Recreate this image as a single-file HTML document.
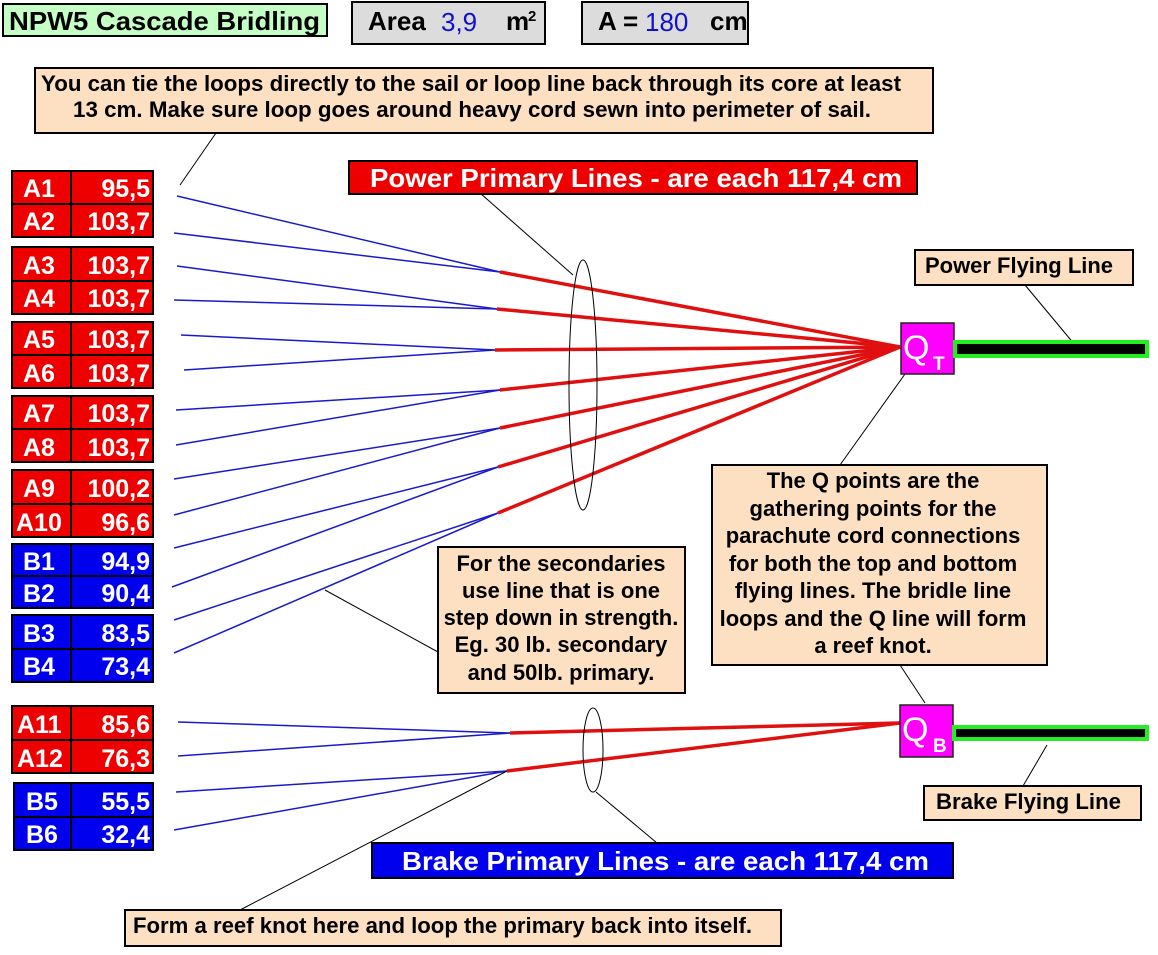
<!DOCTYPE html>
<html><head><meta charset="utf-8"><style>
html,body{margin:0;padding:0;background:#fff;}
svg{display:block;font-family:"Liberation Sans",Arial,sans-serif;font-weight:bold;}
</style></head><body>
<svg width="1158" height="955" viewBox="0 0 1158 955" xmlns="http://www.w3.org/2000/svg">
<rect x="0" y="0" width="1158" height="955" fill="#fff"/>
<!-- header -->
<rect x="3" y="4" width="324" height="32" fill="#c6ffc6" stroke="#000" stroke-width="2"/>
<text x="9" y="30" font-size="26" fill="#000" textLength="311" lengthAdjust="spacingAndGlyphs">NPW5 Cascade Bridling</text>
<rect x="352" y="2" width="193" height="42" fill="#dcdcdc" stroke="#000" stroke-width="2"/>
<text x="368" y="30" font-size="26" fill="#000">Area</text>
<text x="441" y="31" font-size="26" fill="#1010d0" font-weight="normal">3,9</text>
<text x="506" y="30" font-size="26" fill="#000">m</text><text x="528" y="21" font-size="15" fill="#000">2</text>
<rect x="582" y="2" width="166" height="42" fill="#dcdcdc" stroke="#000" stroke-width="2"/>
<text x="598" y="30" font-size="26" fill="#000">A =</text>
<text x="645" y="31" font-size="26" fill="#1010d0" font-weight="normal">180</text>
<text x="710" y="30" font-size="26" fill="#000">cm</text>
<!-- top note -->
<rect x="35" y="68" width="898" height="65" fill="#fde0c2" stroke="#000" stroke-width="2"/>
<text x="41" y="91" font-size="22" fill="#000" textLength="860" lengthAdjust="spacingAndGlyphs">You can tie the loops directly to the sail or loop line back through its core at least</text>
<text x="73" y="117" font-size="22" fill="#000" textLength="798" lengthAdjust="spacingAndGlyphs">13 cm.  Make sure loop goes around heavy cord sewn into perimeter of sail.</text>
<line x1="216" y1="133" x2="180" y2="185" stroke="#000" stroke-width="1"/>
<!-- tables -->
<g font-size="25" fill="#fff">
<g stroke="#000" stroke-width="2">
<rect x="12" y="171" width="141" height="66" fill="#ee0000"/><line x1="12" y1="204" x2="153" y2="204"/><line x1="71" y1="171" x2="71" y2="237"/>
<rect x="12" y="247" width="141" height="67" fill="#ee0000"/><line x1="12" y1="281" x2="153" y2="281"/><line x1="71" y1="247" x2="71" y2="314"/>
<rect x="12" y="322" width="141" height="66" fill="#ee0000"/><line x1="12" y1="355" x2="153" y2="355"/><line x1="71" y1="322" x2="71" y2="388"/>
<rect x="12" y="396" width="141" height="66" fill="#ee0000"/><line x1="12" y1="429" x2="153" y2="429"/><line x1="71" y1="396" x2="71" y2="462"/>
<rect x="12" y="470" width="141" height="67" fill="#ee0000"/><line x1="12" y1="504" x2="153" y2="504"/><line x1="71" y1="470" x2="71" y2="537"/>
<rect x="12" y="544" width="141" height="64" fill="#0000ee"/><line x1="12" y1="576" x2="153" y2="576"/><line x1="71" y1="544" x2="71" y2="608"/>
<rect x="12" y="615" width="141" height="67" fill="#0000ee"/><line x1="12" y1="649" x2="153" y2="649"/><line x1="71" y1="615" x2="71" y2="682"/>
<rect x="12" y="706" width="141" height="67" fill="#ee0000"/><line x1="12" y1="740" x2="153" y2="740"/><line x1="71" y1="706" x2="71" y2="773"/>
<rect x="14" y="783" width="139" height="67" fill="#0000ee"/><line x1="14" y1="817" x2="153" y2="817"/><line x1="71" y1="783" x2="71" y2="850"/>
</g>
<text x="23" y="197">A1</text><text x="150" y="197" text-anchor="end">95,5</text>
<text x="23" y="230">A2</text><text x="150" y="230" text-anchor="end">103,7</text>
<text x="23" y="274">A3</text><text x="150" y="274" text-anchor="end">103,7</text>
<text x="23" y="307">A4</text><text x="150" y="307" text-anchor="end">103,7</text>
<text x="23" y="348">A5</text><text x="150" y="348" text-anchor="end">103,7</text>
<text x="23" y="382">A6</text><text x="150" y="382" text-anchor="end">103,7</text>
<text x="23" y="422">A7</text><text x="150" y="422" text-anchor="end">103,7</text>
<text x="23" y="456">A8</text><text x="150" y="456" text-anchor="end">103,7</text>
<text x="23" y="497">A9</text><text x="150" y="497" text-anchor="end">100,2</text>
<text x="16" y="531">A10</text><text x="150" y="531" text-anchor="end">96,6</text>
<text x="23" y="570">B1</text><text x="150" y="570" text-anchor="end">94,9</text>
<text x="23" y="602">B2</text><text x="150" y="602" text-anchor="end">90,4</text>
<text x="23" y="642">B3</text><text x="150" y="642" text-anchor="end">83,5</text>
<text x="23" y="675">B4</text><text x="150" y="675" text-anchor="end">73,4</text>
<text x="17" y="733">A11</text><text x="150" y="733" text-anchor="end">85,6</text>
<text x="17" y="767">A12</text><text x="150" y="767" text-anchor="end">76,3</text>
<text x="26" y="810">B5</text><text x="150" y="810" text-anchor="end">55,5</text>
<text x="26" y="843">B6</text><text x="150" y="843" text-anchor="end">32,4</text>
</g>
<!-- blue secondaries -->
<g stroke="#1a1acc" stroke-width="1.5" fill="none">
<line x1="177" y1="196" x2="500" y2="272"/><line x1="174" y1="233" x2="500" y2="272"/>
<line x1="177" y1="266" x2="497" y2="309"/><line x1="174" y1="300" x2="497" y2="309"/>
<line x1="181" y1="335" x2="495" y2="350"/><line x1="184" y1="370" x2="495" y2="350"/>
<line x1="176" y1="410" x2="500" y2="390"/><line x1="176" y1="445" x2="500" y2="390"/>
<line x1="174" y1="479" x2="500" y2="428"/><line x1="174" y1="515" x2="500" y2="428"/>
<line x1="174" y1="548" x2="498" y2="467"/><line x1="172" y1="587" x2="498" y2="467"/>
<line x1="174" y1="620" x2="498" y2="513"/><line x1="174" y1="653" x2="498" y2="513"/>
<line x1="178" y1="722" x2="510" y2="733"/><line x1="178" y1="756" x2="510" y2="733"/>
<line x1="176" y1="792" x2="507" y2="771"/><line x1="174" y1="830" x2="507" y2="771"/>
</g>
<!-- red primaries -->
<g stroke="#e01010" stroke-width="3.5" fill="none">
<line x1="500" y1="272" x2="900" y2="347"/><line x1="497" y1="309" x2="900" y2="347"/>
<line x1="495" y1="350" x2="900" y2="347"/><line x1="500" y1="390" x2="900" y2="347"/>
<line x1="500" y1="428" x2="900" y2="347"/><line x1="498" y1="467" x2="900" y2="347"/>
<line x1="498" y1="513" x2="900" y2="347"/>
<line x1="510" y1="733" x2="900" y2="723"/><line x1="507" y1="771" x2="900" y2="723"/>
</g>
<!-- ellipses & leaders -->
<g stroke="#000" stroke-width="1" fill="none">
<ellipse cx="583" cy="385" rx="14" ry="125"/>
<ellipse cx="593" cy="750" rx="10" ry="42"/>
<line x1="480" y1="193" x2="573" y2="275"/>
<line x1="596" y1="792" x2="657" y2="843"/>
<line x1="325" y1="590" x2="438" y2="652"/>
<line x1="905" y1="374" x2="840" y2="465"/>
<line x1="900" y1="665" x2="925" y2="703"/>
<line x1="1025" y1="285" x2="1075" y2="345"/>
<line x1="1047" y1="745" x2="1023" y2="786"/>
<line x1="240" y1="910" x2="507" y2="771"/>
</g>
<!-- power primary label -->
<rect x="349" y="161" width="568" height="33" fill="#ee0000" stroke="#000" stroke-width="2"/>
<text x="370" y="187" font-size="26" fill="#fff" textLength="532" lengthAdjust="spacingAndGlyphs">Power Primary Lines - are each 117,4  cm</text>
<!-- QT -->
<rect x="901" y="323" width="53" height="51" fill="#ff00ff" stroke="#222" stroke-width="1.5"/>
<text x="903" y="359" font-size="34" fill="#fff" font-weight="normal">Q</text><text x="933" y="370" font-size="19" fill="#fff">T</text>
<rect x="955" y="342" width="192" height="14" fill="#000" stroke="#22ee22" stroke-width="4"/>
<rect x="915" y="250" width="218" height="35" fill="#fde0c2" stroke="#000" stroke-width="2"/>
<text x="925" y="273" font-size="22" fill="#000" textLength="188" lengthAdjust="spacingAndGlyphs">Power Flying Line</text>
<!-- Q note -->
<rect x="712" y="465" width="335" height="200" fill="#fde0c2" stroke="#000" stroke-width="2"/>
<g font-size="22" fill="#000" text-anchor="middle">
<text x="873" y="488">The Q points are the</text>
<text x="873" y="516">gathering points for the</text>
<text x="873" y="543">parachute cord connections</text>
<text x="873" y="571">for both the top and bottom</text>
<text x="873" y="598">flying lines.  The bridle line</text>
<text x="873" y="626">loops and the Q line will form</text>
<text x="873" y="653">a reef knot.</text>
</g>
<!-- secondaries note -->
<rect x="438" y="547" width="247" height="146" fill="#fde0c2" stroke="#000" stroke-width="2"/>
<g font-size="22" fill="#000" text-anchor="middle">
<text x="561" y="571">For the secondaries</text>
<text x="561" y="598">use line that is one</text>
<text x="561" y="625">step down in strength.</text>
<text x="561" y="652">Eg. 30 lb. secondary</text>
<text x="561" y="680">and 50lb. primary.</text>
</g>
<!-- QB -->
<rect x="900" y="705" width="53" height="52" fill="#ff00ff" stroke="#222" stroke-width="1.5"/>
<text x="902" y="741" font-size="34" fill="#fff" font-weight="normal">Q</text><text x="933" y="752" font-size="19" fill="#fff">B</text>
<rect x="954" y="727" width="193" height="12" fill="#000" stroke="#22ee22" stroke-width="4"/>
<rect x="924" y="786" width="217" height="34" fill="#fde0c2" stroke="#000" stroke-width="2"/>
<text x="936" y="809" font-size="22" fill="#000" textLength="185" lengthAdjust="spacingAndGlyphs">Brake Flying Line</text>
<!-- brake label -->
<rect x="372" y="843" width="581" height="35" fill="#0000ee" stroke="#000" stroke-width="2"/>
<text x="402" y="870" font-size="26" fill="#fff" textLength="527" lengthAdjust="spacingAndGlyphs">Brake Primary Lines - are each 117,4  cm</text>
<!-- reef note -->
<rect x="125" y="910" width="656" height="36" fill="#fde0c2" stroke="#000" stroke-width="2"/>
<text x="133" y="933" font-size="22" fill="#000" textLength="619" lengthAdjust="spacingAndGlyphs">Form a reef knot here and loop the primary back into itself.</text>
</svg>
</body></html>
